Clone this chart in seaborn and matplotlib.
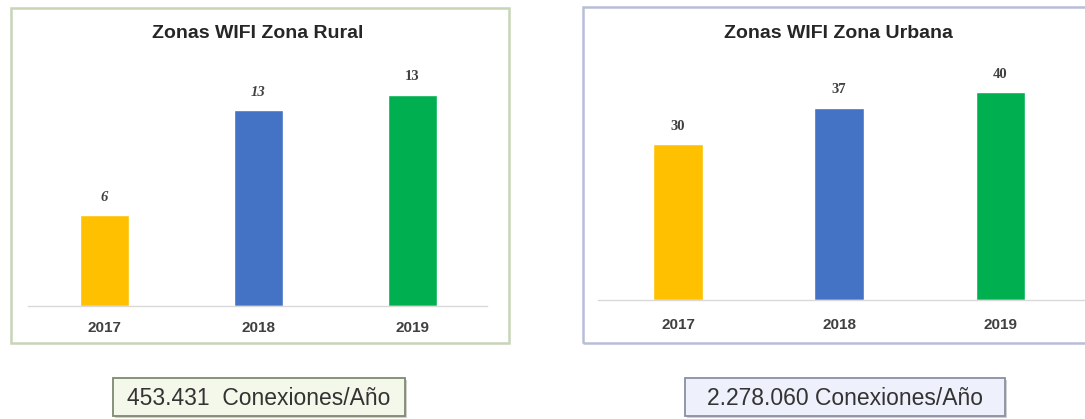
import matplotlib
matplotlib.use("Agg")
import matplotlib.pyplot as plt
from matplotlib.patches import Rectangle
import seaborn as sns
import pandas as pd

# ---- data ----
years = ["2017", "2018", "2019"]
rural_values = [6, 13, 14]
rural_labels = ["6", "13", "13"]
urban_values = [30, 37, 40]
urban_labels = ["30", "37", "40"]
rural_title = "Zonas WIFI Zona Rural"
urban_title = "Zonas WIFI Zona Urbana"
rural_note = "453.431  Conexiones/Año"
urban_note = "2.278.060 Conexiones/Año"
bar_colors = ["#FFC000", "#4472C4", "#00B050"]

sns.set_theme(style="white")
plt.rcParams["font.family"] = ["Liberation Sans Narrow", "Liberation Sans", "DejaVu Sans"]

W, H = 1085, 419
fig = plt.figure(figsize=(W / 100, H / 100), dpi=100)
fig.patch.set_facecolor("white")


def fx(x):
    return x / W


def fy(y):
    return 1 - y / H


def panel_rect(x0, y0, x1, y1, edge, lw=1.8):
    fig.patches.append(Rectangle((fx(x0), fy(y1)), fx(x1 - x0), (y1 - y0) / H,
                                 transform=fig.transFigure, facecolor="none",
                                 edgecolor=edge, linewidth=lw, zorder=-1))


# panel frames
panel_rect(11, 8, 509, 343, "#c8d4b8")
panel_rect(583, 7, 1092, 343, "#b9bdd8")


def draw_panel(rect_px, values, labels, title, ylim_top, xlim, width, label_styles, title_x, tick_y_off):
    x0, y_top, x1, y_base = rect_px
    ax = fig.add_axes([fx(x0), fy(y_base), fx(x1 - x0), (y_base - y_top) / H])
    ax.set_facecolor("none")
    df = pd.DataFrame({"year": years, "value": values})
    sns.barplot(data=df, x="year", y="value", hue="year", palette=bar_colors,
                legend=False, width=width, ax=ax, saturation=1)
    ax.set_xlim(*xlim)
    ax.set_ylim(0, ylim_top)
    for s in ["top", "left", "right"]:
        ax.spines[s].set_visible(False)
    ax.spines["bottom"].set_color("#d9d9d9")
    ax.spines["bottom"].set_linewidth(1.0)
    ax.set_yticks([])
    ax.set_xlabel("")
    ax.set_ylabel("")
    ax.tick_params(axis="x", length=0, pad=tick_y_off, labelsize=11, labelcolor="#404040")
    for t in ax.get_xticklabels():
        t.set_fontweight("bold")
    for i, (v, lab) in enumerate(zip(values, labels)):
        ax.annotate(lab, (i, v), xytext=(0, 8), textcoords="offset points",
                    ha="center", va="bottom", fontsize=10.5, fontweight="bold",
                    fontstyle=label_styles[i], color="#404040",
                    family=["Liberation Serif", "DejaVu Serif"])
    fig.text(fx(title_x), fy(33), title, ha="center", va="center",
             fontsize=14, fontweight="bold", color="#262626")
    return ax


draw_panel((28, 60, 487, 306), rural_values, rural_labels, rural_title,
           246 / 15.1, (-0.493, 2.483), 0.318, ["italic", "italic", "normal"], 258, 11)
draw_panel((598, 60, 1085, 300), urban_values, urban_labels, urban_title,
           240 / 5.2, (-0.496, 2.524), 0.31, ["normal", "normal", "normal"], 838, 13)


# note boxes
def note_box(x0, y0, x1, y1, face, edge, text):
    fig.patches.append(Rectangle((fx(x0 + 2), fy(y1 + 2)), fx(x1 - x0), (y1 - y0) / H,
                                 transform=fig.transFigure, facecolor="#d0d0d0",
                                 edgecolor="none", zorder=0))
    fig.patches.append(Rectangle((fx(x0), fy(y1)), fx(x1 - x0), (y1 - y0) / H,
                                 transform=fig.transFigure, facecolor=face,
                                 edgecolor=edge, linewidth=1.3, zorder=1))
    fig.text(fx((x0 + x1) / 2), fy((y0 + y1) / 2 + 1), text, ha="center", va="center",
             fontsize=16.5, color="#333333", zorder=2)


note_box(113, 378, 405, 416, "#f4f8ea", "#7d8a70", rural_note)
note_box(685, 378, 1005, 416, "#eef0fb", "#8a8fa3", urban_note)

fig.savefig("out.png", dpi=100, facecolor="white")
